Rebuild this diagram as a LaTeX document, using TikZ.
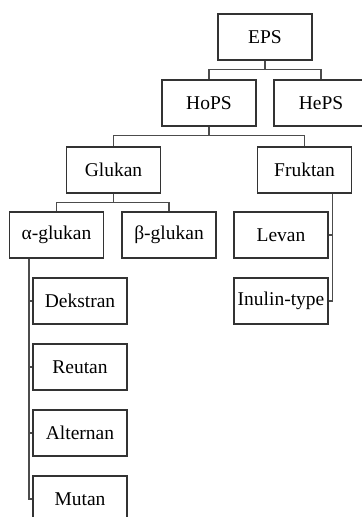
\documentclass[tikz,border=0pt]{standalone}
\usepackage{fontspec}
\setmainfont{Liberation Serif}
\tikzset{
  kotak/.style={draw=black!80,line width=0.7pt,minimum width=47pt,minimum height=23pt,inner sep=0pt,font=\fontsize{9.75}{11}\selectfont},
  garis/.style={draw=black!70,line width=0.7pt}
}
\begin{document}
\begin{tikzpicture}[x=0.5pt,y=-0.5pt]
\useasboundingbox(0,0)rectangle(362,517);
\clip(0,0)rectangle(362,517);
%
\node[kotak](eps)at(265,37){EPS};
\node[kotak](hops)at(209,103){HoPS};
\node[kotak](heps)at(321,103){HePS};
\node[kotak](glukan)at(113.5,170){Glukan};
\node[kotak](fruktan)at(304.5,170){Fruktan};
\node[kotak](aglukan)at(56.5,235){α-glukan};
\node[kotak](bglukan)at(169,235){β-glukan};
\node[kotak](levan)at(281,235){Levan};
\node[kotak](inulin)at(281,301){Inulin-type};
\node[kotak](dekstran)at(80,301){Dekstran};
\node[kotak](reutan)at(80,367){Reutan};
\node[kotak](alternan)at(80,433){Alternan};
\node[kotak](mutan)at(80,499){Mutan};
%
\draw[garis](eps.south)--++(0,9)-|(hops.north);
\draw[garis](eps.south)--++(0,9)-|(heps.north);
\draw[garis](hops.south)--++(0,9)-|(glukan.north);
\draw[garis](hops.south)--++(0,9)-|(fruktan.north);
\draw[garis](glukan.south)--++(0,9)-|(aglukan.north);
\draw[garis](glukan.south)--++(0,9)-|(bglukan.north);
%
\coordinate(fr)at([xshift=-10]fruktan.south east);
\draw[garis](fr)|-(inulin.east);
\draw[garis](fr|-levan.east)--(levan.east);
%
\coordinate(ag)at([xshift=10]aglukan.south west);
\draw[garis](ag)|-(mutan.west);
\draw[garis](ag|-dekstran.west)--(dekstran.west);
\draw[garis](ag|-reutan.west)--(reutan.west);
\draw[garis](ag|-alternan.west)--(alternan.west);
\end{tikzpicture}
\end{document}
